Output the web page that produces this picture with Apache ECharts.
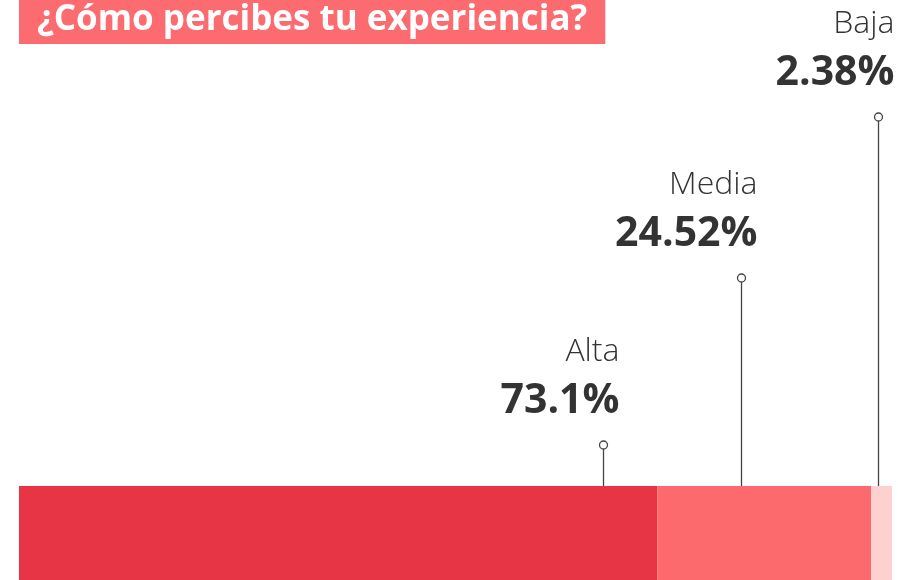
<!DOCTYPE html>
<html>
<head>
<meta charset="utf-8">
<script src="https://cdn.jsdelivr.net/npm/echarts@6/dist/echarts.min.js"></script>
<style>
  html, body { margin: 0; padding: 0; background: #fff; }
  #main { width: 898px; height: 580px; }
</style>
</head>
<body>
<div id="main"></div>
<script>
// datos
const categories = ['Alta', 'Media', 'Baja'];
const values = [73.1, 24.52, 2.38];
const colors = ['#e83546', '#fc6a6e', '#ffd0d0'];

// donde cae cada línea guía (en unidades del eje, 0-100) y cuánto sube
const leaderX = [66.9, 82.7, 98.4];
const leaderRise = [41, 208, 369];

const chartDom = document.getElementById('main');
const myChart = echarts.init(chartDom);

const barSeries = categories.map((name, i) => ({
    name: name,
    type: 'bar',
    stack: 'total',
    xAxisIndex: 0,
    yAxisIndex: 0,
    barWidth: '100%',
    itemStyle: { color: colors[i] },
    data: [values[i]],
    silent: true
}));

const labelData = categories.map((name, i) => [leaderX[i], leaderRise[i], name, values[i]]);

const option = {
    animation: false,
    title: {
        text: '¿Cómo percibes tu experiencia?',
        left: 19,
        top: 0,
        backgroundColor: '#fb6b70',
        padding: [0, 18, 4, 18],
        textStyle: {
            color: '#fff',
            fontFamily: 'Open Sans',
            fontWeight: 'bold',
            fontSize: 35,
            lineHeight: 40
        }
    },
    grid: [
        { left: 19, right: 6, top: 486, bottom: 0 },
        { left: 19, right: 6, top: 0, bottom: 94 }
    ],
    xAxis: [
        { type: 'value', min: 0, max: 100, show: false, gridIndex: 0 },
        { type: 'value', min: 0, max: 100, show: false, gridIndex: 1 }
    ],
    yAxis: [
        { type: 'category', data: [''], show: false, gridIndex: 0 },
        { type: 'value', min: 0, max: 486, show: false, gridIndex: 1 }
    ],
    series: barSeries.concat([{
        type: 'custom',
        xAxisIndex: 1,
        yAxisIndex: 1,
        silent: true,
        data: labelData,
        renderItem: function (params, api) {
            const x = Math.round(api.coord([api.value(0), 0])[0]) + 0.5;
            const base = api.coord([api.value(0), 0])[1];
            const cy = api.coord([api.value(0), api.value(1)])[1];
            const item = labelData[params.dataIndex];
            return {
                type: 'group',
                children: [
                    {
                        type: 'line',
                        shape: { x1: x, y1: base, x2: x, y2: cy + 4 },
                        style: { stroke: '#444', lineWidth: 1.3 }
                    },
                    {
                        type: 'circle',
                        shape: { cx: x, cy: cy, r: 4 },
                        style: { fill: '#fff', stroke: '#444', lineWidth: 1.3 }
                    },
                    {
                        type: 'text',
                        style: {
                            text: item[3] + '%',
                            x: x + 16,
                            y: cy - 23,
                            align: 'right',
                            verticalAlign: 'bottom',
                            fill: '#333',
                            font: 'bold 41px "Open Sans"'
                        }
                    },
                    {
                        type: 'text',
                        style: {
                            text: item[2],
                            x: x + 16,
                            y: cy - 77,
                            align: 'right',
                            verticalAlign: 'bottom',
                            fill: '#333',
                            font: '300 32px "Open Sans"'
                        }
                    }
                ]
            };
        }
    }])
};

option && myChart.setOption(option);
</script>
</body>
</html>
